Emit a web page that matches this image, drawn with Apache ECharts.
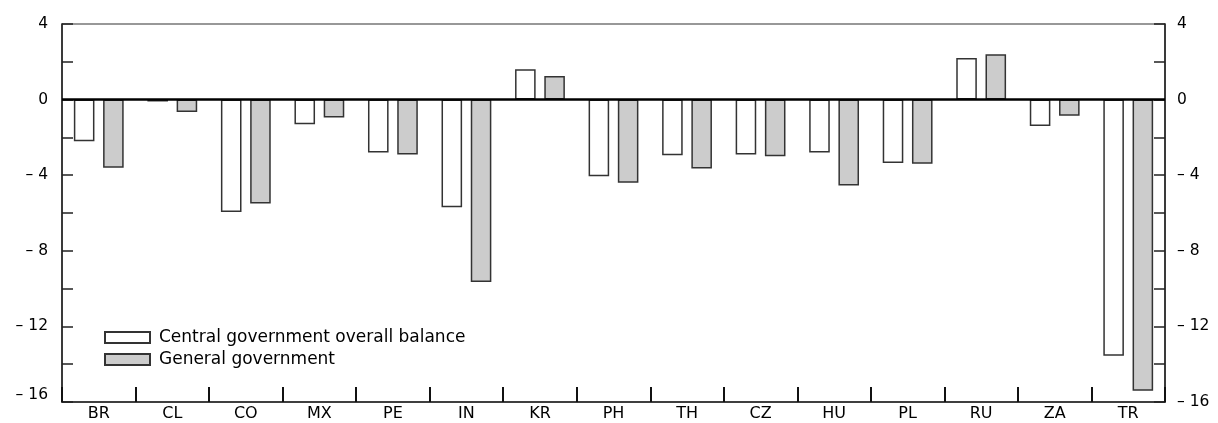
<!DOCTYPE html>
<html>
<head>
<meta charset="utf-8">
<style>html,body{margin:0;padding:0;background:#fff;}#c{width:1218px;height:423px;}</style>
<script src="https://cdn.jsdelivr.net/npm/echarts@6/dist/echarts.min.js"></script>
</head>
<body>
<div id="c"></div>
<script>
const categories = ['BR','CL','CO','MX','PE','IN','KR','PH','TH','CZ','HU','PL','RU','ZA','TR'];
const centralBalance = [-2.2, -0.1, -5.95, -1.3, -2.8, -5.7, 1.6, -4.05, -2.95, -2.9, -2.8, -3.35, 2.2, -1.4, -13.55];
const generalGovernment = [-3.6, -0.65, -5.5, -0.95, -2.9, -9.65, 1.25, -4.4, -3.65, -3.0, -4.55, -3.4, 2.4, -0.85, -15.4];
const seriesNames = ['Central government overall balance', 'General government'];
const yMin = -16, yMax = 4, yStep = 2;

const FONT = 'DejaVu Sans';
function yLabel(side) {
  return function (v) {
    if (v % 4 !== 0) return '';
    const t = v < 0 ? '\u2013 ' + (-v) : String(v);
    if (side === 'left' && v === yMin) return '{s|' + t + '}';
    return t;
  };
}
function yAxis(pos) {
  return {
    type: 'value', position: pos, min: yMin, max: yMax, interval: yStep,
    axisLine: {show: true, lineStyle: {color: '#222', width: 1.5}},
    axisTick: {show: true, inside: true, length: 11, lineStyle: {color: '#222', width: 1.5}},
    splitLine: {show: false},
    axisLabel: {
      formatter: yLabel(pos), color: '#000', fontFamily: FONT, fontSize: 15.5,
      margin: pos === 'left' ? 14 : 12,
      rich: {s: {fontFamily: FONT, fontSize: 15.5, color: '#000', padding: [0, 0, 14, 0]}}
    }
  };
}
const chart = echarts.init(document.getElementById('c'), null, {renderer: 'canvas'});
chart.setOption({
  animation: false,
  backgroundColor: '#fff',
  grid: {left: 62, right: 53, top: 24, bottom: 21, show: true, borderColor: '#333', borderWidth: 1.2, backgroundColor: 'transparent'},
  legend: {
    orient: 'vertical', left: 99, top: 324, itemWidth: 45, itemHeight: 11, itemGap: 5,
    icon: 'rect',
    textStyle: {fontFamily: FONT, fontSize: 17, color: '#000', padding: [0, 0, 0, 4]},
    data: seriesNames
  },
  xAxis: {
    type: 'category', data: categories, boundaryGap: true,
    axisLine: {show: true, onZero: false, lineStyle: {color: '#222', width: 1.5}},
    axisTick: {show: true, inside: true, length: 15, interval: 0, lineStyle: {color: '#111', width: 2}},
    axisLabel: {color: '#000', fontFamily: FONT, fontSize: 16, margin: 4, interval: 0},
    splitLine: {show: false}
  },
  yAxis: [yAxis('left'), yAxis('right')],
  series: [
    {
      name: seriesNames[0], type: 'bar', data: centralBalance, barWidth: '28%', barGap: '42%',
      itemStyle: {color: '#ffffff', borderColor: '#333', borderWidth: 1.5},
      markLine: {silent: true, symbol: 'none', label: {show: false},
        lineStyle: {color: '#000', width: 2.5, type: 'solid'}, data: [{yAxis: 0}]}
    },
    {
      name: seriesNames[1], type: 'bar', data: generalGovernment, barWidth: '28%', barGap: '42%',
      itemStyle: {color: '#cccccc', borderColor: '#333', borderWidth: 1.5}
    }
  ]
});
</script>
</body>
</html>
